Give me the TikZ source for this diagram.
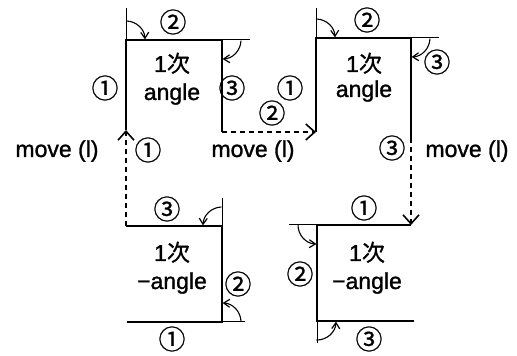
\documentclass[tikz,border=0pt]{standalone}
\usepackage{fontspec}
\setmainfont[FakeBold=1.2]{Liberation Sans}
\newfontfamily\cjkfont[FakeBold=0.8]{Noto Sans CJK JP}
\usetikzlibrary{arrows.meta}

\begin{document}
\begin{tikzpicture}[x=1pt,y=1pt,
  every node/.style={font=\fontsize{23}{26}\selectfont,inner sep=0pt},
  num/.style={font=\cjkfont\fontsize{27}{27}\selectfont},
  outline/.style={line width=2pt,line join=miter},
  ext/.style={line width=1pt},
  mv/.style={line width=1.5pt,dash pattern=on 5pt off 4pt,
    -{Straight Barb[length=9pt,width=16pt,line width=1.6pt]}},
  turn/.style={line width=1.1pt,-{Straight Barb[length=6pt,width=8pt,line width=1.2pt]}}]
  \useasboundingbox (0,0) rectangle (517,356);
  % corners
  \coordinate (A1) at (126,226);
  \coordinate (A2) at (126,316);
  \coordinate (A3) at (222,316);
  \coordinate (A4) at (222,224);
  \coordinate (B1) at (316,224);
  \coordinate (B2) at (316,318);
  \coordinate (B3) at (411,318);
  \coordinate (B4) at (411,218);
  \coordinate (C1) at (411,131);
  \coordinate (C2) at (317,131);
  \coordinate (C3) at (317,35);
  \coordinate (C4) at (414,35);
  \coordinate (D1) at (126,130);
  \coordinate (D2) at (222,130);
  \coordinate (D3) at (222,34);
  \coordinate (D4) at (127,34);
  % ends of the thin lines
  \coordinate (eA2) at (126,348);
  \coordinate (eA3) at (250,316);
  \coordinate (eB2) at (316,348);
  \coordinate (eB3) at (439,318);
  \coordinate (eC2) at (289,131);
  \coordinate (eC3) at (317,13);
  \coordinate (eD2) at (222,158);
  \coordinate (eD3) at (245,34);
  % outlines
  \draw[outline] (A1) -- (A2) -- (A3) -- (A4);
  \draw[outline] (B1) -- (B2) -- (B3) -- (B4);
  \draw[outline] (C1) -- (C2) -- (C3) -- (C4);
  \draw[outline] (D1) -- (D2) -- (D3) -- (D4);
  % moves
  \draw[mv] (A4) -- (B1);
  \draw[mv] (B4) -- (C1);
  \draw[mv] (D1) -- (A1);
  % thin lines and turns
  \draw[ext] (A2) -- (eA2);
  \draw[ext] (A3) -- (eA3);
  \draw[ext] (B2) -- (eB2);
  \draw[ext] (B3) -- (eB3);
  \draw[ext] (C2) -- (eC2);
  \draw[ext] (C3) -- (eC3);
  \draw[ext] (D2) -- (eD2);
  \draw[ext] (D3) -- (eD3);
  \draw[turn] ([shift={(88:19)}]A2) arc[start angle=88,end angle=2,radius=19];
  \draw[turn] ([shift={(-2:19)}]A3) arc[start angle=-2,end angle=-88,radius=19];
  \draw[turn] ([shift={(88:19)}]B2) arc[start angle=88,end angle=2,radius=19];
  \draw[turn] ([shift={(-2:19)}]B3) arc[start angle=-2,end angle=-88,radius=19];
  \draw[turn] ([shift={(178:19)}]C2) arc[start angle=178,end angle=268,radius=19];
  \draw[turn] ([shift={(268:19)}]C3) arc[start angle=268,end angle=358,radius=19];
  \draw[turn] ([shift={(92:19)}]D2) arc[start angle=92,end angle=178,radius=19];
  \draw[turn] ([shift={(2:19)}]D3) arc[start angle=2,end angle=88,radius=19];
  % texts
  \node[anchor=base] (tA1) at (172,284) {1{\cjkfont 次}};
  \node[anchor=base] (tA2) at (172,256) {angle};
  \node[anchor=base] (tB1) at (364,284) {1{\cjkfont 次}};
  \node[anchor=base] (tB2) at (364,259) {angle};
  \node[anchor=base] (tC1) at (367,95) {1{\cjkfont 次}};
  \node[anchor=base] (tC2) at (367,67) {−angle};
  \node[anchor=base] (tD1) at (172,95) {1{\cjkfont 次}};
  \node[anchor=base] (tD2) at (172,67) {−angle};
  \node[anchor=base] (mL) at (57,199) {move (l)};
  \node[anchor=base] (mM) at (253,199) {move (l)};
  \node[anchor=base] (mR) at (467,199) {move (l)};
  % numbers
  \node[num] (nA1) at (105,268) {①};
  \node[num] (nA2) at (173,334) {②};
  \node[num] (nA3) at (232,268) {③};
  \node[num] (nB1) at (290,268) {①};
  \node[num] (nB2) at (367,336) {②};
  \node[num] (nB3) at (437,294) {③};
  \node[num] (nC1) at (364,148) {①};
  \node[num] (nC2) at (300,82) {②};
  \node[num] (nC3) at (369,17) {③};
  \node[num] (nD1) at (172,17) {①};
  \node[num] (nD2) at (238,72) {②};
  \node[num] (nD3) at (167,147) {③};
  \node[num] (nM1) at (148,206) {①};
  \node[num] (nM2) at (272,243) {②};
  \node[num] (nM3) at (392,208) {③};
\end{tikzpicture}
\end{document}
